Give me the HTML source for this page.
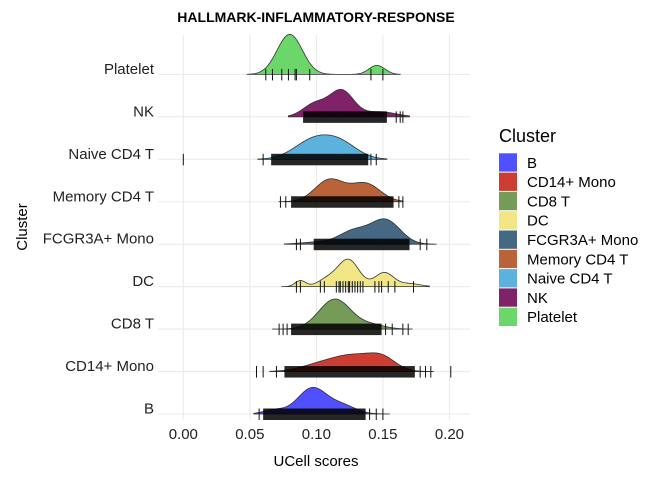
<!DOCTYPE html>
<html><head><meta charset="utf-8"><style>
html,body{margin:0;padding:0;background:#fff;}
svg{display:block;font-family:"Liberation Sans",sans-serif;}
</style></head><body>
<svg id="c" width="672" height="480" xmlns="http://www.w3.org/2000/svg"></svg>
<script>
const categories=["B","CD14+ Mono","CD8 T","DC","FCGR3A+ Mono","Memory CD4 T","Naive CD4 T","NK","Platelet"];
const colors=["#5050FF","#CE3D32","#749B58","#F0E685","#466983","#BA6338","#5DB1DD","#802268","#6BD76B"];
// density shapes: [center, sd, peak height]
const densB=[[0.097,0.011,26],[0.12,0.010,8],[0.068,0.008,4]];
const densCD14=[[0.128,0.017,16],[0.150,0.010,10],[0.100,0.014,5]];
const densCD8=[[0.114,0.012,30],[0.142,0.010,4]];
const densDC=[[0.088,0.004,6],[0.108,0.007,7],[0.124,0.008,27],[0.151,0.007,14],[0.170,0.008,3]];
const densFCGR=[[0.152,0.011,24],[0.128,0.011,13],[0.100,0.012,2]];
const densMem=[[0.110,0.011,22],[0.137,0.011,18]];
const densNaive=[[0.097,0.014,18],[0.118,0.013,15]];
const densNK=[[0.119,0.009,26],[0.099,0.009,13],[0.148,0.012,5]];
const densPlt=[[0.080,0.0095,40],[0.1455,0.006,9]];
const densities=[densB,densCD14,densCD8,densDC,densFCGR,densMem,densNaive,densNK,densPlt];
const ranges=[[0.053,0.155],[0.065,0.188],[0.067,0.172],[0.074,0.185],[0.076,0.19],[0.072,0.165],[0.056,0.153],[0.079,0.17],[0.048,0.163]];
// dense rug bands [from,to]
const rugBands=[[0.060,0.137],[0.076,0.174],[0.081,0.149],null,[0.098,0.170],[0.081,0.158],[0.066,0.139],[0.090,0.153],null];
const rugTicks=[[0.057,0.140,0.145,0.150],[0.055,0.060,0.070,0.178,0.182,0.186,0.201],[0.072,0.075,0.078,0.152,0.157,0.165,0.169],[0.085,0.088,0.103,0.106,0.115,0.117,0.118,0.120,0.122,0.124,0.125,0.127,0.129,0.131,0.133,0.135,0.144,0.147,0.149,0.154,0.159,0.173],[0.085,0.088,0.178,0.183],[0.073,0.077,0.162,0.165],[0.0,0.060,0.141,0.145],[0.160,0.163,0.165],[0.062,0.067,0.074,0.079,0.084,0.085,0.095,0.141,0.150]];
const xTicks=[0,0.05,0.10,0.15,0.20];
const xTickLabels=["0.00","0.05","0.10","0.15","0.20"];

const NS="http://www.w3.org/2000/svg",svg=document.getElementById('c');
function mk(t,a,p){const e=document.createElementNS(NS,t);for(const k in a)e.setAttribute(k,a[k]);(p||svg).appendChild(e);return e;}
const X=v=>183.3+v*1330.7;
const Y=i=>414-i*42.45;
const pL=158,pR=470,pT=35,pB=420;
xTicks.forEach((t,i)=>{
  const l=mk('line',{x1:X(t),x2:X(t),y1:pT,y2:pB,stroke:'#ebebeb','stroke-width':1.1});
  
  const tx=mk('text',{x:X(t),y:439,'text-anchor':'middle','font-size':15,fill:'#222'});tx.textContent=xTickLabels[i];
  
});
categories.forEach((c,i)=>{
  const l=mk('line',{x1:pL,x2:pR,y1:Y(i),y2:Y(i),stroke:'#ebebeb','stroke-width':1.1});
  
});
for(let i=categories.length-1;i>=0;i--){
  const g=mk('g',{});
  
  
  const [a,b]=ranges[i],y0=Y(i);let d='M'+X(a)+','+y0;
  for(let k=0;k<=200;k++){const v=a+(b-a)*k/200;let h=0;densities[i].forEach(([m,s,p])=>{h+=p*Math.exp(-0.5*((v-m)/s)**2);});d+=' L'+X(v).toFixed(2)+','+(y0-h).toFixed(2);}
  d+=' L'+X(b)+','+y0+' Z';
  mk('path',{d:d,fill:colors[i],stroke:'#333','stroke-width':0.8},g);
  const band=rugBands[i];
  if(band){const r=mk('rect',{x:X(band[0]),y:y0-5.5,width:X(band[1])-X(band[0]),height:11.5,fill:'#000',opacity:0.85},g);
    }
  rugTicks[i].forEach(v=>{const t=mk('line',{x1:X(v),x2:X(v),y1:y0-5.5,y2:y0+6,stroke:'#111','stroke-width':1},g);
    });
  const lb=mk('text',{x:154,y:y0-0.5,'text-anchor':'end','font-size':15,fill:'#222'});lb.textContent=categories[i];
  
}
let t=mk('text',{x:316,y:22,'text-anchor':'middle','font-size':14,'font-weight':'bold',fill:'#000'});t.textContent='HALLMARK-INFLAMMATORY-RESPONSE';

t=mk('text',{x:316,y:466,'text-anchor':'middle','font-size':15,fill:'#000'});t.textContent='UCell scores';

t=mk('text',{x:27,y:227,'text-anchor':'middle','font-size':15,fill:'#000',transform:'rotate(-90 27 227)'});t.textContent='Cluster';

t=mk('text',{x:499,y:142,'font-size':18,fill:'#000'});t.textContent='Cluster';

categories.forEach((c,i)=>{
  const g=mk('g',{});
  mk('rect',{x:499,y:153.3+i*19.3,width:18,height:18.3,fill:colors[i]},g);
  const tx=mk('text',{x:527,y:153.3+i*19.3+14.5,'font-size':15,fill:'#000'},g);tx.textContent=c;
});
</script>
</body></html>
